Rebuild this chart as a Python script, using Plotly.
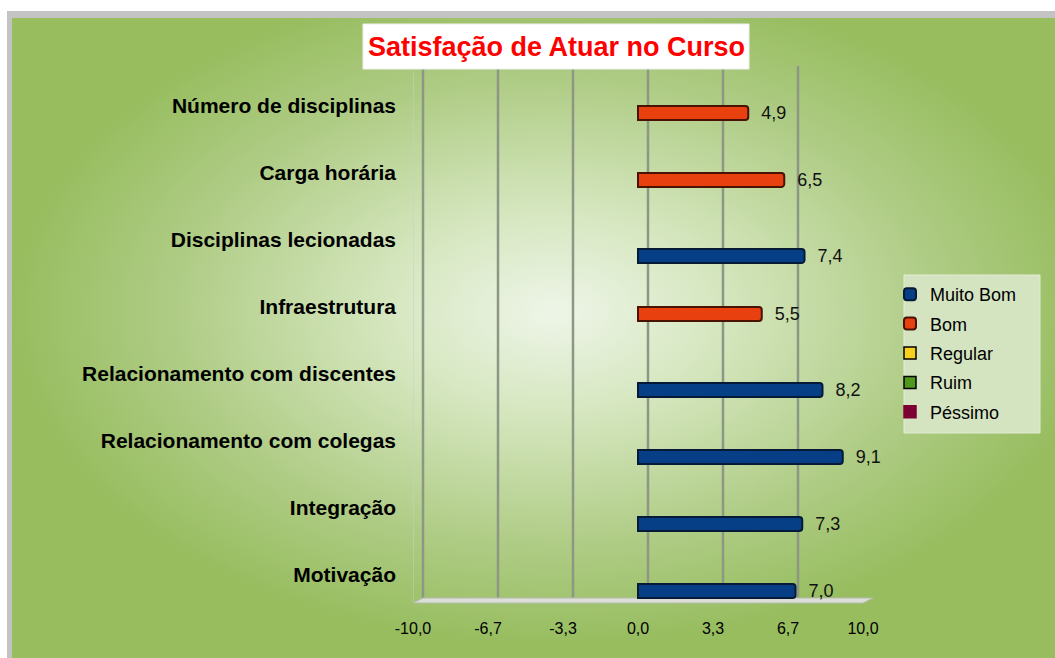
import base64
import plotly.graph_objects as go

# ---------------- data ----------------
categories = [
    "Motivação",
    "Integração",
    "Relacionamento com colegas",
    "Relacionamento com discentes",
    "Infraestrutura",
    "Disciplinas lecionadas",
    "Carga horária",
    "Número de disciplinas",
]
muito_bom_cats = ["Motivação", "Integração", "Relacionamento com colegas",
                  "Relacionamento com discentes", "Disciplinas lecionadas"]
muito_bom_vals = [7.0, 7.3, 9.1, 8.2, 7.4]
bom_cats = ["Infraestrutura", "Carga horária", "Número de disciplinas"]
bom_vals = [5.5, 6.5, 4.9]
x_tickvals = [-10, -20 / 3, -10 / 3, 0, 10 / 3, 20 / 3, 10]
x_ticktext = ["-10,0", "-6,7", "-3,3", "0,0", "3,3", "6,7", "10,0"]
series_names = ["Muito Bom", "Bom", "Regular", "Ruim", "Péssimo"]
series_colors = ["#063f86", "#e8400e", "#f7cf1d", "#4f9a1e", "#7d0033"]
series_lines = ["#061a38", "#4a1203", "#000000", "#000000", "#7d0033"]

# ---------------- geometry helpers (pixels -> paper) ----------------
W, H = 1055, 658
def xp(px):
    return px / W
def yp(py):
    return 1 - py / H

PLOT_L, PLOT_R = 413, 863      # front plane x-extent (-10 .. 10)
PLOT_T, PLOT_B = 66, 603       # y extent
CAT_SPACING = 67.0             # px per category
BOTTOM_CENTER = 586.5          # px of bottom category centre
y_lo = -(PLOT_B - BOTTOM_CENTER) / CAT_SPACING
y_hi = y_lo + (PLOT_B - PLOT_T) / CAT_SPACING

BAR_W = 14 / CAT_SPACING
SHIFT = 4.5 / CAT_SPACING

# ---------------- background (gradient) ----------------
svg = f"""<svg xmlns='http://www.w3.org/2000/svg' width='{W-7}' height='{H-11}' viewBox='0 0 {W-7} {H-11}' preserveAspectRatio='none'>
<defs><radialGradient id='g' cx='0.52' cy='0.46' r='0.52'>
<stop offset='0' stop-color='#eef5e8'/>
<stop offset='0.3' stop-color='#d6e7c0'/>
<stop offset='0.7' stop-color='#afcc85'/>
<stop offset='1' stop-color='#97bd5f'/>
</radialGradient></defs>
<rect x='0' y='0' width='{W-7}' height='{H-11}' fill='#c3c3c3'/>
<rect x='5' y='7' width='{W-12}' height='{H-18}' fill='url(#g)'/>
</svg>"""
bg_src = "data:image/svg+xml;base64," + base64.b64encode(svg.encode()).decode()

LABEL_FONT = dict(family="Liberation Sans, Arial", size=18, color="#111111")
PAD = "\u00a0\u00a0"

fig = go.Figure()

fig.add_trace(go.Bar(
    x=muito_bom_vals, y=muito_bom_cats, orientation="h", name=series_names[0],
    marker=dict(color=series_colors[0], line=dict(color=series_lines[0], width=2),
                cornerradius=3),
    width=BAR_W, offset=-SHIFT - BAR_W / 2,
    texttemplate=PAD + "%{x:.1f}", textposition="outside", constraintext="none",
    textfont=LABEL_FONT, cliponaxis=False, legendgroup="a",
))
fig.add_trace(go.Bar(
    x=bom_vals, y=bom_cats, orientation="h", name=series_names[1],
    marker=dict(color=series_colors[1], line=dict(color=series_lines[1], width=2),
                cornerradius=3),
    width=BAR_W, offset=SHIFT - BAR_W / 2,
    texttemplate=PAD + "%{x:.1f}", textposition="outside", constraintext="none",
    textfont=LABEL_FONT, cliponaxis=False, legendgroup="b",
))
for i in range(2, 5):
    fig.add_trace(go.Bar(
        x=[None], y=[categories[0]], orientation="h", name=series_names[i],
        marker=dict(color=series_colors[i], line=dict(color=series_lines[i], width=1.5)),
        width=BAR_W, legendgroup="g%d" % i,
    ))

shapes = []
# back-wall gridlines (offset for the 3D depth)
for v in x_tickvals:
    shapes.append(dict(type="line", xref="x", yref="paper", xsizemode="pixel",
                       xanchor=v, x0=10, x1=10, y0=yp(598), y1=yp(PLOT_T),
                       line=dict(color="#8c9784", width=2.5), layer="below"))
# front-left edge
shapes.append(dict(type="line", xref="x", yref="paper", xsizemode="pixel",
                   xanchor=-10, x0=0, x1=0, y0=yp(PLOT_B), y1=yp(71),
                   line=dict(color="#c9d0c1", width=1), layer="below"))
# floor
shapes.append(dict(type="path", xref="paper", yref="paper",
                   path=f"M{xp(PLOT_L)},{yp(PLOT_B)} L{xp(PLOT_R)},{yp(PLOT_B)} "
                        f"L{xp(PLOT_R+10)},{yp(598)} L{xp(PLOT_L+10)},{yp(598)} Z",
                   fillcolor="#dcdfd8", line=dict(color="#b5bbb0", width=1), layer="below"))
# legend box
shapes.append(dict(type="rect", xref="paper", yref="paper",
                   x0=xp(904), x1=xp(1040), y0=yp(433), y1=yp(275),
                   fillcolor="#d4e4c0", line=dict(color="#e2ebd6", width=1), layer="below"))
# title box
shapes.append(dict(type="rect", xref="paper", yref="paper",
                   x0=xp(363), x1=xp(749), y0=yp(69), y1=yp(24),
                   fillcolor="#ffffff", line=dict(color="#f0f0f0", width=1), layer="above"))

fig.update_layout(
    width=W, height=H, autosize=False,
    margin=dict(l=0, r=0, t=0, b=0, pad=0, autoexpand=False),
    paper_bgcolor="#ffffff", plot_bgcolor="rgba(0,0,0,0)",
    separators=",.",
    barmode="overlay",
    font=dict(family="Liberation Sans, Arial", color="#000000"),
    images=[dict(source=bg_src, xref="paper", yref="paper", x=xp(7), y=yp(11),
                 sizex=(W - 7) / W, sizey=(H - 11) / H, xanchor="left", yanchor="top",
                 sizing="stretch", layer="below")],
    shapes=shapes,
    annotations=[dict(text="<b>Satisfação de Atuar no Curso</b>", xref="paper", yref="paper",
                      x=xp(556), y=yp(47), xanchor="center", yanchor="middle", showarrow=False,
                      font=dict(family="Liberation Sans, Arial", size=27, color="#ff0000"))],
    xaxis=dict(domain=[xp(PLOT_L), xp(PLOT_R)], range=[-10, 10], automargin=False,
               tickvals=x_tickvals, ticktext=x_ticktext, showgrid=False, zeroline=False,
               showline=False, ticks="", ticklabelstandoff=14,
               tickfont=dict(family="Liberation Sans, Arial", size=16, color="#000000")),
    yaxis=dict(domain=[yp(PLOT_B), yp(PLOT_T)], type="category", automargin=False,
               categoryorder="array", categoryarray=categories, range=[y_lo, y_hi],
               showgrid=False, zeroline=False, showline=False, ticks="",
               ticklabelshift=-12, ticklabelstandoff=16,
               tickfont=dict(family="Liberation Sans, Arial", size=21, color="#000000",
                             weight="bold")),
    legend=dict(x=xp(890), y=yp(276), xanchor="left", yanchor="top",
                bgcolor="rgba(0,0,0,0)", traceorder="grouped", tracegroupgap=3,
                font=dict(family="Liberation Sans, Arial", size=18, color="#000000")),
    showlegend=True,
)

fig.write_html(
    "out.html",
    config={"responsive": False, "displayModeBar": False},
    post_script="document.body.style.margin='0';document.body.style.overflow='hidden';",
)
